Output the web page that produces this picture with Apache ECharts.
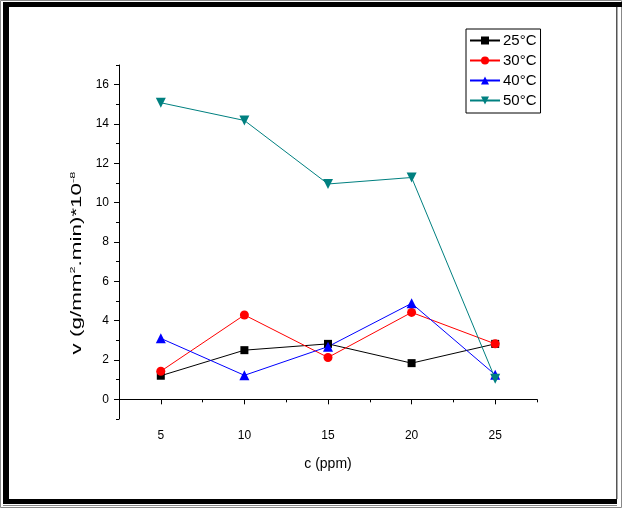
<!DOCTYPE html>
<html>
<head>
<meta charset="utf-8">
<script src="https://cdn.jsdelivr.net/npm/echarts@6/dist/echarts.min.js"></script>
<style>
  html, body { margin: 0; padding: 0; background: #fff; }
  #chart { width: 622px; height: 508px; }
</style>
</head>
<body>
<div id="chart"></div>
<script>
// concentration (ppm) and rate values
var conc = [5, 10, 15, 20, 25];
var v25 = [1.2, 2.5, 2.82, 1.84, 2.82];
var v30 = [1.43, 4.29, 2.13, 4.42, 2.82];
var v40 = [3.1, 1.22, 2.68, 4.88, 1.25];
var v50 = [15.08, 14.18, 10.95, 11.28, 1.05];
var xTicks = [5, 10, 15, 20, 25];
var xMinor = [2.5, 7.5, 12.5, 17.5, 22.5, 27.5];
var yTicks = [0, 2, 4, 6, 8, 10, 12, 14, 16];
var yMinor = [-1, 1, 3, 5, 7, 9, 11, 13, 15, 17];

function pairs(ys) {
  return conc.map(function (c, i) { return [c, ys[i]]; });
}

var chart = echarts.init(document.getElementById('chart'));
var font = 'Liberation Sans, Arial, sans-serif';

function mkSeries(name, data, color, symbol, size, rot) {
  return {
    name: name,
    type: 'line',
    data: pairs(data),
    symbol: symbol,
    symbolSize: size,
    symbolRotate: rot || 0,
    lineStyle: { color: color, width: 1 },
    itemStyle: { color: color },
    emphasis: { disabled: true },
    animation: false
  };
}

chart.setOption({
  backgroundColor: '#fff',
  textStyle: { fontFamily: font },
  grid: { left: 119, right: 85, top: 65, bottom: 89 },
  legend: {
    orient: 'vertical',
    left: 466,
    top: 29,
    padding: [4, 4, 5, 3],
    borderColor: '#000',
    borderWidth: 1,
    backgroundColor: '#fff',
    itemWidth: 30,
    itemHeight: 10,
    itemGap: 5,
    textStyle: { fontSize: 15, color: '#000', fontFamily: font, padding: [0, 0, 0, -2] },
    data: ['25°C', '30°C', '40°C', '50°C']
  },
  xAxis: [{
    type: 'value',
    min: 2.5,
    max: 27.5,
    name: 'c (ppm)',
    nameLocation: 'middle',
    nameGap: 38,
    nameTextStyle: { fontSize: 14, color: '#000' },
    axisLine: { lineStyle: { color: '#000', width: 1 } },
    axisTick: { customValues: xTicks, length: 5, lineStyle: { color: '#000' } },
    axisLabel: { customValues: xTicks, color: '#000', fontSize: 12, margin: 11 },
    splitLine: { show: false }
  }, {
    type: 'value',
    min: 2.5,
    max: 27.5,
    position: 'bottom',
    axisLine: { show: false },
    axisTick: { customValues: xMinor, length: 3, lineStyle: { color: '#000' } },
    axisLabel: { show: false },
    splitLine: { show: false }
  }],
  yAxis: [{
    type: 'value',
    min: -1,
    max: 17,
    axisLine: { show: true, lineStyle: { color: '#000', width: 1 } },
    axisTick: { show: true, customValues: yTicks, length: 5, lineStyle: { color: '#000' } },
    axisLabel: { customValues: yTicks, color: '#000', fontSize: 12, margin: 10 },
    splitLine: { show: false }
  }, {
    type: 'value',
    min: -1,
    max: 17,
    position: 'left',
    axisLine: { show: false },
    axisTick: { show: true, customValues: yMinor, length: 3, lineStyle: { color: '#000' } },
    axisLabel: { show: false },
    splitLine: { show: false }
  }],
  graphic: [
    { type: 'rect', silent: true, shape: { x: 0.5, y: 0.5, width: 621, height: 507 },
      style: { fill: null, stroke: '#888', lineWidth: 1 } },
    { type: 'rect', silent: true, shape: { x: 3, y: 2, width: 619, height: 5 }, style: { fill: '#000' } },
    { type: 'rect', silent: true, shape: { x: 3, y: 2, width: 6, height: 502 }, style: { fill: '#000' } },
    { type: 'rect', silent: true, shape: { x: 3, y: 499, width: 614, height: 5 }, style: { fill: '#000' } },
    { type: 'rect', silent: true, shape: { x: 616, y: 7, width: 1.5, height: 492 }, style: { fill: '#555' } },
    { type: 'rect', silent: true, shape: { x: 3, y: 505, width: 614, height: 1 }, style: { fill: '#888' } },
    // y axis title, stretched along its length like the original figure
    { type: 'text', silent: true, x: 77, y: 263, rotation: Math.PI / 2, scaleX: 1.6, scaleY: 1,
      style: {
        text: 'v (g/mm{sup|2}.min)*10{sup|-8}',
        font: '14px ' + font,
        fill: '#000',
        align: 'center',
        verticalAlign: 'middle',
        rich: { sup: { fontSize: 8, fill: '#000', padding: [0, 0, 8, 0] } }
      } }
  ],
  series: [
    mkSeries('25°C', v25, '#000000', 'rect', 8),
    mkSeries('30°C', v30, '#ff0000', 'circle', 9),
    mkSeries('40°C', v40, '#0000ff', 'triangle', 10),
    mkSeries('50°C', v50, '#008080', 'triangle', 10, 180)
  ]
});
</script>
</body>
</html>
